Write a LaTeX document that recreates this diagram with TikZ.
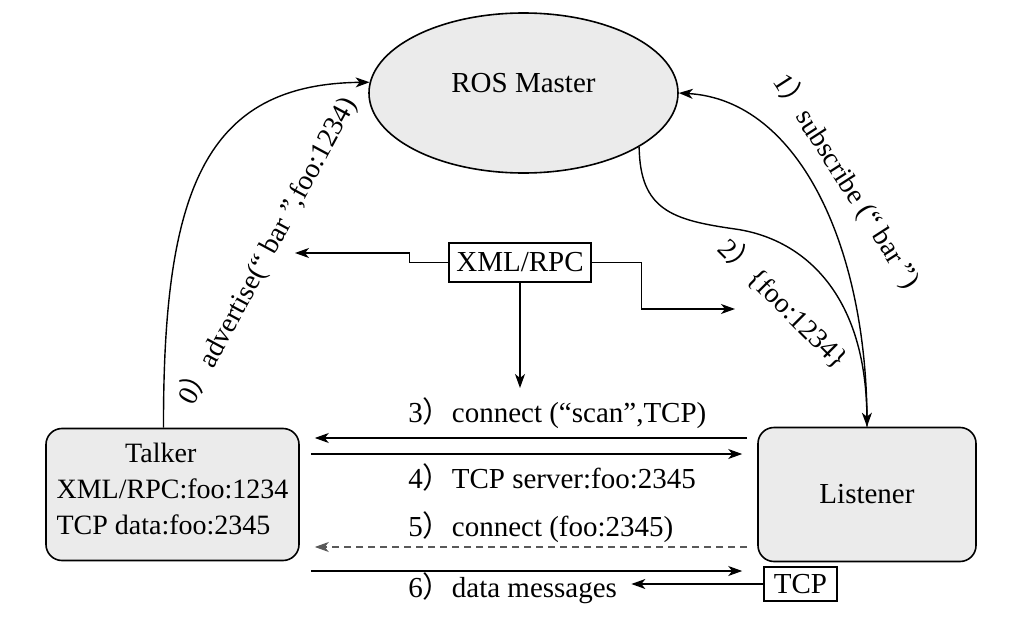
\documentclass[tikz,border=0pt]{standalone}
\usepackage{fontspec}
\setmainfont{Liberation Serif}
\newfontfamily\cjk{Noto Sans CJK SC}
\usepackage{tikz}
\usetikzlibrary{arrows.meta,shapes.geometric,positioning,calc}
\definecolor{boxgray}{RGB}{235,235,235}
\newcommand{\fp}{{\cjk ）}}

\begin{document}
\begin{tikzpicture}[x=0.5pt,y=-0.5pt,
        font=\fontsize{14.5}{17}\selectfont,
        arr/.style={-{Stealth[length=7pt,width=5pt,inset=2pt]},line width=0.7pt},
        proc/.style={draw,line width=0.8pt,fill=boxgray,rounded corners=8pt},
        tag/.style={draw,line width=0.7pt,fill=white,inner sep=0pt},
        msg/.style={anchor=west,inner sep=0pt},
        curvelab/.style={inner sep=0pt,font=\fontsize{14}{17}\selectfont}]
        \useasboundingbox (0,0) rectangle (1024,621);
        % the three parties
        \node[ellipse,draw,line width=0.8pt,fill=boxgray,minimum width=154.5pt,minimum height=80pt,text depth=10pt] (master) at (523.5,93) {ROS Master};
        \node[proc,minimum width=126.5pt,minimum height=66pt,align=left,font=\fontsize{14}{18}\selectfont] (talker) at (172.5,494.5) {\hspace*{2.45em}Talker\\XML/RPC:foo:1234\\TCP data:foo:2345\strut};
        \node[proc,minimum width=109pt,minimum height=67pt] (listener) at (867,494.5) {Listener};
        \node[tag,minimum width=71pt,minimum height=19.5pt] (xmlrpc) at (520,262.5) {XML/RPC};
        \node[tag,minimum width=36.5pt,minimum height=17pt,anchor=north west] (tcp) at ([shift={(6,4)}]listener.south west) {TCP};
        % master calls
        \draw[arr] ([xshift=-4.5pt]talker.north) .. controls (163,190) and (205,84) .. (master.176);
        \draw[arr] (listener.north) .. controls (868,250) and (800,100) .. (master.east);
        \draw[arr] (master.-25) .. controls (640,210) and (672,220) .. (735,229) .. controls (800,238) and (866,290) .. (listener.north);
        \node[curvelab,rotate=61.7] (adv) at (267,251) {0\fp advertise(“ bar ”,foo:1234)};
        \node[curvelab,rotate=-57.2] (sub) at (847,181) {1\fp subscribe (“ bar ”)};
        \node[curvelab,rotate=-45] (ans) at (784,303) {2\fp\{foo:1234\}};
        % xml/rpc arrows
        \coordinate (advpt) at (295,253);
        \coordinate (anspt) at (735,309);
        \coordinate (conpt) at (520,388);
        \draw[arr] (xmlrpc.west) -- ++(-39,0) |- (advpt);
        \draw[arr] (xmlrpc.east) -- ++(50,0) |- (anspt);
        \draw[arr] (xmlrpc.south) -- (conpt);
        % talker <-> listener
        \draw[arr] ([shift={(-10,-56.5)}]listener.west) -- ([shift={(15,-56.5)}]talker.east);
        \draw[arr] ([shift={(11,-40.5)}]talker.east) -- ([shift={(-15,-40.5)}]listener.west);
        \draw[arr,draw=black!65,dash pattern=on 3.5pt off 2.5pt] ([shift={(-10,52.5)}]listener.west) -- ([shift={(15,52.5)}]talker.east);
        \draw[arr] ([shift={(11,76.5)}]talker.east) -- ([shift={(-15,76.5)}]listener.west);
        \node[msg] (msg3) at (408,413.5) {3\fp connect (“scan”,TCP)};
        \node[msg] (msg4) at (408,477.5) {4\fp TCP server:foo:2345};
        \node[msg] (msg5) at (408,527.5) {5\fp connect (foo:2345)};
        \node[msg] (msg6) at (408,588) {6\fp data messages};
        \draw[arr,shorten >=7pt] (tcp.west) -- (tcp.west -| msg6.east);
\end{tikzpicture}
\end{document}
